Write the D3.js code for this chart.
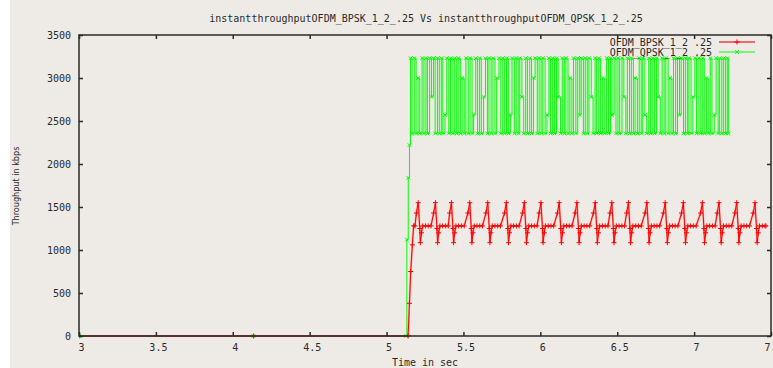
<!DOCTYPE html>
<html>
<head>
<meta charset="utf-8">
<script src="https://cdn.jsdelivr.net/npm/d3@7"></script>
<style>
  html, body { margin: 0; padding: 0; background: #ffffff; }
  svg { display: block; }
</style>
</head>
<body>
<svg id="chart" width="773" height="368"></svg>
<script>
// ---- chart text ----
const titleText = "instantthroughputOFDM_BPSK_1_2_.25 Vs instantthroughputOFDM_QPSK_1_2_.25";
const xLabelText = "Time in sec";
const yLabelText = "Throughput in kbps";
const seriesNames = ["OFDM_BPSK_1_2 .25", "OFDM_QPSK_1_2 .25"];

// ---- axis ticks ----
const xTicks = [3, 3.5, 4, 4.5, 5, 5.5, 6, 6.5, 7, 7.5];
const yTicks = [0, 500, 1000, 1500, 2000, 2500, 3000, 3500];

// ---- BPSK instant throughput: [time (s), kbps] ----
const bpskPoints = [
  [3.000,0],[4.134,0],[5.140,0],[5.149,380],[5.157,750],[5.168,1060],[5.176,1280],[5.185,1280],
  [5.194,1430],[5.206,1550],[5.216,1250],[5.220,1085],[5.227,1200],[5.235,1280],[5.253,1280],[5.271,1280],[5.289,1280],
  [5.306,1430],[5.318,1550],[5.328,1250],[5.332,1085],[5.339,1200],[5.347,1280],[5.365,1280],[5.383,1280],[5.401,1280],
  [5.410,1430],[5.422,1550],[5.432,1250],[5.436,1085],[5.443,1200],[5.451,1280],[5.469,1280],[5.487,1280],[5.505,1280],
  [5.529,1430],[5.541,1550],[5.551,1250],[5.555,1085],[5.562,1200],[5.570,1280],[5.588,1280],[5.606,1280],[5.624,1280],
  [5.646,1430],[5.658,1550],[5.668,1250],[5.672,1085],[5.679,1200],[5.687,1280],[5.705,1280],[5.723,1280],[5.741,1280],
  [5.767,1430],[5.779,1550],[5.789,1250],[5.793,1085],[5.800,1200],[5.808,1280],[5.826,1280],[5.844,1280],[5.862,1280],
  [5.884,1430],[5.896,1550],[5.906,1250],[5.910,1085],[5.917,1200],[5.925,1280],[5.943,1280],[5.961,1280],[5.979,1280],
  [5.992,1430],[6.004,1550],[6.014,1250],[6.018,1085],[6.025,1200],[6.033,1280],[6.051,1280],[6.069,1280],[6.087,1280],
  [6.111,1430],[6.123,1550],[6.133,1250],[6.137,1085],[6.144,1200],[6.152,1280],[6.170,1280],[6.188,1280],[6.206,1280],
  [6.226,1430],[6.238,1550],[6.248,1250],[6.252,1085],[6.259,1200],[6.267,1280],[6.285,1280],[6.303,1280],[6.321,1280],
  [6.345,1430],[6.357,1550],[6.367,1250],[6.371,1085],[6.378,1200],[6.386,1280],[6.404,1280],[6.422,1280],[6.440,1280],
  [6.453,1430],[6.465,1550],[6.475,1250],[6.479,1085],[6.486,1200],[6.494,1280],[6.512,1280],[6.530,1280],[6.548,1280],
  [6.561,1430],[6.573,1550],[6.583,1250],[6.587,1085],[6.594,1200],[6.602,1280],[6.620,1280],[6.638,1280],[6.656,1280],
  [6.681,1430],[6.693,1550],[6.703,1250],[6.707,1085],[6.714,1200],[6.722,1280],[6.740,1280],[6.758,1280],[6.776,1280],
  [6.800,1430],[6.812,1550],[6.822,1250],[6.826,1085],[6.833,1200],[6.841,1280],[6.859,1280],[6.877,1280],[6.895,1280],
  [6.918,1430],[6.930,1550],[6.940,1250],[6.944,1085],[6.951,1200],[6.959,1280],[6.977,1280],[6.995,1280],[7.013,1280],
  [7.042,1430],[7.054,1550],[7.064,1250],[7.068,1085],[7.075,1200],[7.083,1280],[7.101,1280],[7.119,1280],[7.137,1280],
  [7.150,1430],[7.162,1550],[7.172,1250],[7.176,1085],[7.183,1200],[7.191,1280],[7.209,1280],[7.227,1280],[7.245,1280],
  [7.265,1430],[7.277,1550],[7.287,1250],[7.291,1085],[7.298,1200],[7.306,1280],[7.324,1280],[7.342,1280],[7.360,1280],
  [7.384,1430],[7.396,1550],[7.406,1250],[7.410,1085],[7.417,1200],[7.425,1280],[7.443,1280],[7.461,1280],[7.467,1280]
];

// ---- QPSK instant throughput: [time (s), kbps] ----
const qpskPoints = [
  [3.000,0],[4.134,0],[5.128,0],[5.132,1120],[5.141,1840],[5.149,2220],
  [5.156,3230],[5.166,2355],[5.180,3230],[5.192,2355],[5.205,3000],[5.216,2355],[5.231,3230],[5.243,2355],
  [5.256,3230],[5.266,2355],[5.280,3230],[5.292,2780],[5.305,3230],[5.316,2355],[5.331,3230],[5.343,2355],
  [5.356,3230],[5.366,2355],[5.380,2570],[5.392,3230],[5.405,2355],[5.416,3230],[5.431,2355],[5.443,3230],
  [5.456,2355],[5.466,3230],[5.480,2355],[5.492,3000],[5.505,2355],[5.516,3230],[5.531,2355],[5.543,3230],
  [5.556,2355],[5.566,2570],[5.580,3230],[5.592,2355],[5.605,3230],[5.616,2355],[5.631,2780],[5.643,3230],
  [5.656,2355],[5.666,3230],[5.680,2355],[5.692,3230],[5.705,2355],[5.716,3000],[5.731,3230],[5.743,2355],
  [5.756,3230],[5.766,2355],[5.780,3230],[5.792,2355],[5.805,2570],[5.816,3230],[5.831,2355],[5.843,3230],
  [5.856,2355],[5.866,3230],[5.880,2780],[5.892,2355],[5.905,3230],[5.916,2355],[5.931,3230],[5.943,2355],
  [5.956,3000],[5.966,3230],[5.980,2355],[5.992,3230],[6.005,2355],[6.016,3230],[6.031,2355],[6.043,2570],
  [6.056,3230],[6.066,2355],[6.080,3230],[6.092,2355],[6.105,3230],[6.116,2780],[6.131,2355],[6.143,3230],
  [6.156,2355],[6.166,3230],[6.180,2355],[6.192,3000],[6.205,2355],[6.216,3230],[6.231,2355],[6.243,3230],
  [6.256,2570],[6.266,3230],[6.280,2355],[6.292,3230],[6.305,2355],[6.316,3230],[6.331,2780],[6.343,2355],
  [6.356,3230],[6.366,2355],[6.380,3230],[6.392,2355],[6.405,3000],[6.416,2355],[6.431,3230],[6.443,2355],
  [6.456,3230],[6.466,2570],[6.480,3230],[6.492,2355],[6.505,3230],[6.516,2355],[6.531,3230],[6.543,2780],
  [6.556,2355],[6.566,3230],[6.580,2355],[6.592,3230],[6.605,2355],[6.616,3000],[6.631,2355],[6.643,3230],
  [6.656,2355],[6.666,3230],[6.680,2570],[6.692,2355],[6.705,3230],[6.716,2355],[6.731,3230],[6.743,2355],
  [6.756,3230],[6.766,2780],[6.780,2355],[6.792,3230],[6.805,2355],[6.816,3230],[6.831,2355],[6.843,3000],
  [6.856,2355],[6.866,3230],[6.880,2355],[6.892,3230],[6.905,2570],[6.916,3230],[6.931,2355],[6.943,3230],
  [6.956,2355],[6.966,3230],[6.980,2355],[6.992,2780],[7.005,3230],[7.016,2355],[7.031,3230],[7.043,2355],
  [7.056,3230],[7.066,2355],[7.080,3000],[7.092,2355],[7.105,3230],[7.116,2355],[7.131,2570],[7.143,3230],
  [7.156,2355],[7.166,3230],[7.180,2355],[7.192,3230],[7.205,2355],[7.216,3230],[7.225,2355]
];

// ---- layout ----
const W = 773, H = 368;
const plot = { left: 79, right: 771, top: 35, bottom: 336 };
const bg = "#eeebe7";
const ink = "#2a2a2a";
const mono = "'DejaVu Sans Mono', 'Liberation Mono', monospace";

const svg = d3.select("#chart");

// window background (left strip stays white)
svg.append("rect")
  .attr("x", 10).attr("y", 0)
  .attr("width", W - 10).attr("height", H)
  .attr("fill", bg);

const x = d3.scaleLinear().domain([3, 7.5]).range([plot.left, plot.right]);
const y = d3.scaleLinear().domain([0, 3500]).range([plot.bottom, plot.top]);

svg.append("defs").append("clipPath").attr("id", "plotClip")
  .append("rect")
  .attr("x", plot.left).attr("y", plot.top - 4)
  .attr("width", plot.right - plot.left).attr("height", plot.bottom - plot.top + 8);

// ---- data layers ----
const line = d3.line().x(d => x(d[0])).y(d => y(d[1]));
const stepLine = d3.line().x(d => x(d[0])).y(d => y(d[1])).curve(d3.curveStepAfter);
const data = svg.append("g").attr("clip-path", "url(#plotClip)");

function plusPath(cx, cy, r) {
  return `M${cx - r},${cy}H${cx + r}M${cx},${cy - r}V${cy + r}`;
}
function crossPath(cx, cy, r) {
  return `M${cx - r},${cy - r}L${cx + r},${cy + r}M${cx - r},${cy + r}L${cx + r},${cy - r}`;
}

// QPSK (green, x markers) drawn as a step trace
data.append("path")
  .datum(qpskPoints)
  .attr("d", stepLine)
  .attr("fill", "none")
  .attr("stroke", "#00ff00")
  .attr("stroke-width", 1);
data.append("path")
  .attr("d", qpskPoints.map(d => crossPath(x(d[0]), y(d[1]), 1.8)).join(""))
  .attr("fill", "none")
  .attr("stroke", "#00ff00")
  .attr("stroke-width", 1);

// BPSK (red, + markers)
data.append("path")
  .datum(bpskPoints)
  .attr("d", line)
  .attr("fill", "none")
  .attr("stroke", "#ff7070")
  .attr("stroke-width", 2)
  .attr("stroke-opacity", 0.6);
data.append("path")
  .datum(bpskPoints)
  .attr("d", line)
  .attr("fill", "none")
  .attr("stroke", "#ff0000")
  .attr("stroke-width", 1);
data.append("path")
  .attr("d", bpskPoints.map(d => plusPath(x(d[0]), y(d[1]), 2.5)).join(""))
  .attr("fill", "none")
  .attr("stroke", "#ff0000")
  .attr("stroke-width", 1);

// ---- axes (inward ticks on all four sides) ----
const fmt = d => String(d);
function styleAxis(g) {
  g.select(".domain").remove();
  g.selectAll(".tick line").attr("stroke", ink).attr("stroke-width", 1.5);
  g.selectAll(".tick text")
    .attr("fill", ink)
    .style("font-family", mono)
    .style("font-size", "10px");
}

svg.append("g")
  .attr("transform", `translate(0,${plot.bottom})`)
  .call(d3.axisBottom(x).tickValues(xTicks).tickFormat(fmt).tickSizeInner(-4).tickSizeOuter(0).tickPadding(8))
  .call(styleAxis)
  .call(g => g.selectAll(".tick text").attr("dx", 2));

svg.append("g")
  .attr("transform", `translate(0,${plot.top})`)
  .call(d3.axisTop(x).tickValues(xTicks).tickFormat("").tickSizeInner(-4).tickSizeOuter(0))
  .call(styleAxis);

svg.append("g")
  .attr("transform", `translate(${plot.left},0)`)
  .call(d3.axisLeft(y).tickValues(yTicks).tickFormat(fmt).tickSizeInner(-4).tickSizeOuter(0).tickPadding(8))
  .call(styleAxis);

svg.append("g")
  .attr("transform", `translate(${plot.right},0)`)
  .call(d3.axisRight(y).tickValues(yTicks).tickFormat("").tickSizeInner(-4).tickSizeOuter(0))
  .call(styleAxis);

// plot frame
svg.append("rect")
  .attr("x", plot.left).attr("y", plot.top)
  .attr("width", plot.right - plot.left).attr("height", plot.bottom - plot.top)
  .attr("fill", "none")
  .attr("stroke", ink)
  .attr("stroke-width", 1.5);

// ---- titles ----
svg.append("text")
  .attr("x", 426).attr("y", 22)
  .attr("text-anchor", "middle")
  .attr("fill", ink)
  .style("font-family", mono)
  .style("font-size", "10px")
  .text(titleText);

svg.append("text")
  .attr("x", 425).attr("y", 366)
  .attr("text-anchor", "middle")
  .attr("fill", ink)
  .style("font-family", mono)
  .style("font-size", "10px")
  .text(xLabelText);

svg.append("text")
  .attr("transform", "translate(19,186) rotate(-90)")
  .attr("text-anchor", "middle")
  .attr("fill", ink)
  .style("font-family", "'DejaVu Sans Condensed', 'Liberation Sans', sans-serif")
  .style("font-size", "9px")
  .text(yLabelText);

// ---- legend ----
const legendRows = [
  { name: seriesNames[0], color: "#ff0000", lineColor: "#f06a6a", width: 2, marker: plusPath, r: 2.5 },
  { name: seriesNames[1], color: "#00ff00", lineColor: "#00ff00", width: 1, marker: crossPath, r: 1.8 }
];
const legend = svg.append("g");
legendRows.forEach((row, i) => {
  const ly = 42 + i * 10;
  legend.append("text")
    .attr("x", 712).attr("y", ly)
    .attr("dy", "0.35em")
    .attr("text-anchor", "end")
    .attr("fill", ink)
    .style("font-family", mono)
    .style("font-size", "10px")
    .text(row.name);
  legend.append("line")
    .attr("x1", 719).attr("x2", 755)
    .attr("y1", ly).attr("y2", ly)
    .attr("stroke", row.lineColor)
    .attr("stroke-width", row.width);
  legend.append("path")
    .attr("d", row.marker(737, ly, row.r))
    .attr("fill", "none")
    .attr("stroke", row.color)
    .attr("stroke-width", 1);
});
</script>
</body>
</html>
